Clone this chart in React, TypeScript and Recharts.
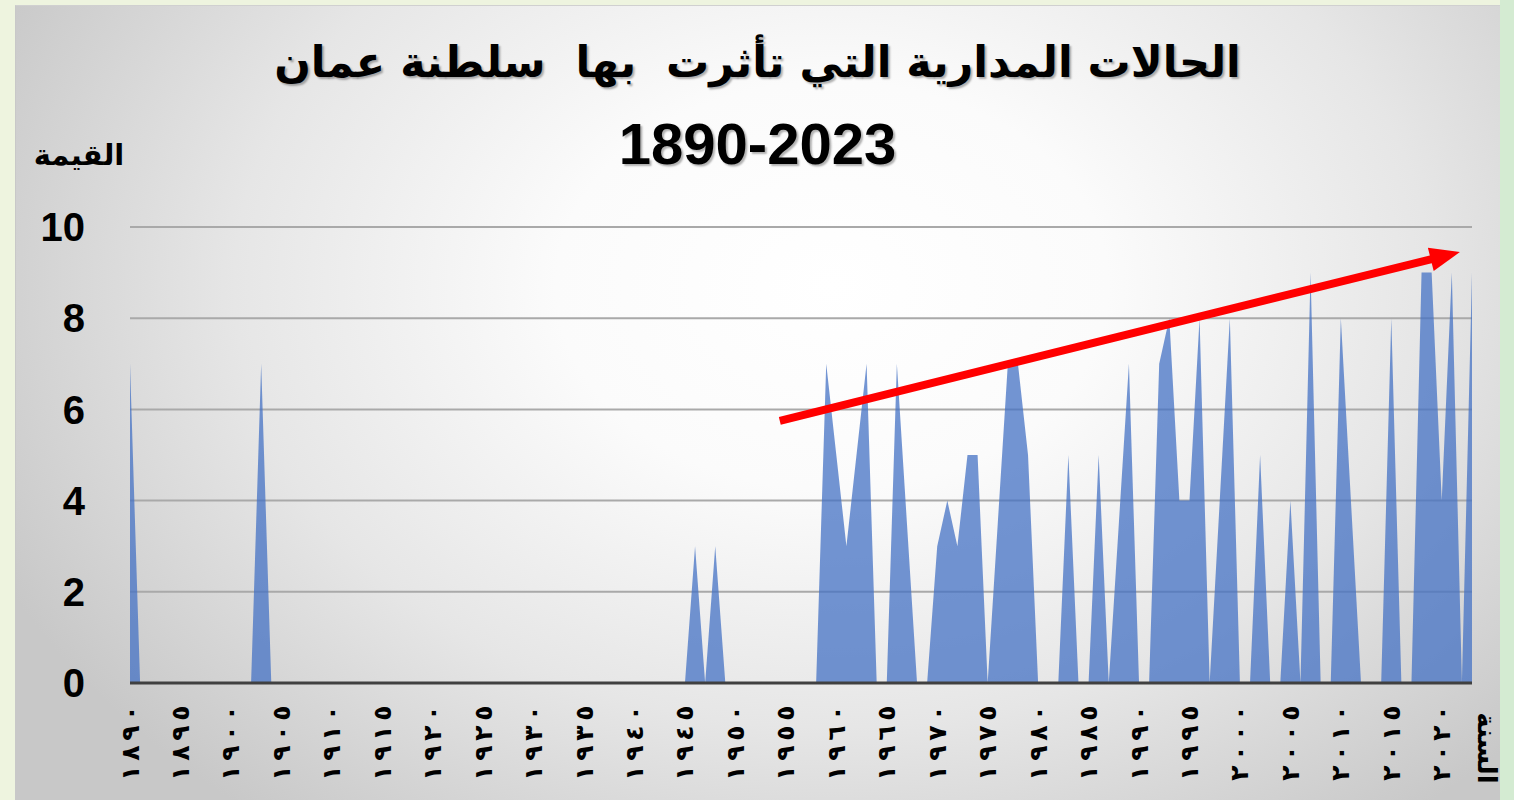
import React from 'react';
import { AreaChart, Area, XAxis, YAxis, CartesianGrid, ReferenceLine } from 'recharts';

const startYear = 1890;

// Values per year, 1890 .. 2023
const values: number[] = [
  // 1890-1899
  7, 0, 0, 0, 0, 0, 0, 0, 0, 0,
  // 1900-1909
  0, 0, 0, 7, 0, 0, 0, 0, 0, 0,
  // 1910-1919
  0, 0, 0, 0, 0, 0, 0, 0, 0, 0,
  // 1920-1929
  0, 0, 0, 0, 0, 0, 0, 0, 0, 0,
  // 1930-1939
  0, 0, 0, 0, 0, 0, 0, 0, 0, 0,
  // 1940-1949
  0, 0, 0, 0, 0, 0, 3, 0, 3, 0,
  // 1950-1959
  0, 0, 0, 0, 0, 0, 0, 0, 0, 7,
  // 1960-1969
  5, 3, 5, 7, 0, 0, 7, 3.5, 0, 0,
  // 1970-1979
  3, 4, 3, 5, 5, 0, 3.5, 7, 7, 5,
  // 1980-1989
  0, 0, 0, 5, 0, 0, 5, 0, 3.5, 7,
  // 1990-1999
  0, 0, 7, 8, 4, 4, 8, 0, 4, 8,
  // 2000-2009
  0, 0, 5, 0, 0, 4, 0, 9, 0, 0,
  // 2010-2019
  8, 4, 0, 0, 0, 8, 0, 0, 9, 9,
  // 2020-2023
  4, 9, 0, 9,
];

const tickYears = [
  1890, 1895, 1900, 1905, 1910, 1915, 1920, 1925, 1930, 1935, 1940, 1945, 1950,
  1955, 1960, 1965, 1970, 1975, 1980, 1985, 1990, 1995, 2000, 2005, 2010, 2015, 2020,
];
const yTicks = [0, 2, 4, 6, 8, 10];

const titleLine1 = 'الحالات المدارية التي تأثرت  بها  سلطنة عمان';
const titleLine2 = '1890-2023';
const yLabel = 'القيمة';
const xLabel = 'السنة';

// Trend arrow (annotation) in data coordinates
const trendStart = { year: 1954.4, value: 5.75 };
const trendEnd = { year: 2021.8, value: 9.45 };

const data = values.map((v, i) => ({ year: startYear + i, value: v }));

const toArabicDigits = (n: number | string) =>
  String(n).replace(/[0-9]/g, (d) => String.fromCharCode(0x0660 + Number(d)));

const XTick = (props: any) => {
  const { x, y, payload } = props;
  const chars = toArabicDigits(payload.value).split('');
  const n = chars.length;
  const step = 20;
  // rotated frame: larger x = higher on screen; last char on top
  return (
    <g transform={`rotate(-90 ${x} ${y})`}>
      {chars.map((c, i) => (
        <text
          key={i}
          x={x - 8 - (n - 1 - i) * step}
          y={y}
          textAnchor="middle"
          dominantBaseline="central"
          fontFamily="'DejaVu Sans', sans-serif"
          fontWeight="bold"
          fontSize={25}
          fill="#000"
        >
          {c}
        </text>
      ))}
    </g>
  );
};

const ArrowShape = (props: any) => {
  const { x1, y1, x2, y2 } = props;
  if ([x1, y1, x2, y2].some((v) => v === undefined || isNaN(v))) return null;
  const dx = x2 - x1;
  const dy = y2 - y1;
  const len = Math.sqrt(dx * dx + dy * dy);
  const ux = dx / len;
  const uy = dy / len;
  const headLen = 30;
  const headHalf = 12;
  const bx = x2 - ux * headLen;
  const by = y2 - uy * headLen;
  const px = -uy;
  const py = ux;
  return (
    <g>
      <line x1={x1} y1={y1} x2={bx + ux * 2} y2={by + uy * 2} stroke="#ff0000" strokeWidth={8} />
      <polygon
        points={`${x2},${y2} ${bx + px * headHalf},${by + py * headHalf} ${bx - px * headHalf},${by - py * headHalf}`}
        fill="#ff0000"
      />
    </g>
  );
};

export default function App() {
  return (
    <div
      style={{
        position: 'absolute',
        left: 0,
        top: 0,
        width: 1514,
        height: 800,
        overflow: 'hidden',
        background: '#eef4df',
      }}
    >
      <div style={{ position: 'absolute', left: 1500, top: 0, width: 14, height: 800, background: '#d4ebd2' }} />
      <div
        style={{
          position: 'absolute',
          left: 15,
          top: 5,
          width: 1485,
          height: 800,
          boxSizing: 'border-box',
          borderTop: '1px solid #d0d0d0',
          borderLeft: '1px solid #c8c8c8',
          background:
            'radial-gradient(ellipse 62% 85% at 55% 35%, #ffffff 0%, #fbfbfb 30%, #e6e6e6 65%, #c8c8c8 100%)',
        }}
      />
      <div style={{ position: 'absolute', left: 0, top: 0 }}>
        <AreaChart
          width={1514}
          height={800}
          data={data}
          margin={{ top: 227, right: 42, bottom: 17, left: 30 }}
        >
          <CartesianGrid vertical={false} stroke="#a9a9a9" strokeWidth={2} />
          <XAxis
            dataKey="year"
            type="number"
            domain={[1890, 2023]}
            ticks={tickYears}
            interval={0}
            tick={<XTick />}
            tickLine={false}
            tickSize={0}
            tickMargin={22}
            axisLine={{ stroke: '#404040', strokeWidth: 3 }}
            height={100}
            allowDataOverflow
          />
          <YAxis
            domain={[0, 10]}
            ticks={yTicks}
            width={100}
            axisLine={false}
            tickLine={false}
            tickSize={0}
            tickMargin={45}
            tick={{ fill: '#000', fontSize: 40, fontWeight: 'bold', fontFamily: "'Liberation Sans', Arial, sans-serif" }}
          />
          <Area
            type="linear"
            dataKey="value"
            fill="#4472C4"
            fillOpacity={0.75}
            stroke="none"
            dot={false}
            activeDot={false}
            isAnimationActive={false}
          />
          <ReferenceLine
            segment={[
              { x: trendStart.year, y: trendStart.value },
              { x: trendEnd.year, y: trendEnd.value },
            ]}
            shape={<ArrowShape />}
            ifOverflow="visible"
          />
        </AreaChart>
      </div>
      <div
        style={{
          position: 'absolute',
          left: 15,
          width: 1485,
          top: 30,
          height: 64,
          lineHeight: '64px',
          textAlign: 'center',
          direction: 'rtl',
          whiteSpace: 'pre',
          fontFamily: "'DejaVu Sans', sans-serif",
          fontWeight: 'bold',
          fontSize: 43,
          color: '#000',
          textShadow: '2px 2px 2px rgba(0,0,0,0.3)',
        }}
      >
        {titleLine1}
      </div>
      <div
        style={{
          position: 'absolute',
          left: 15,
          width: 1485,
          top: 112,
          height: 64,
          lineHeight: '64px',
          textAlign: 'center',
          fontFamily: "'Liberation Sans', Arial, sans-serif",
          fontWeight: 'bold',
          fontSize: 58,
          color: '#000',
          textShadow: '2px 2px 2px rgba(0,0,0,0.3)',
        }}
      >
        {titleLine2}
      </div>
      <div
        style={{
          position: 'absolute',
          left: 20,
          width: 118,
          top: 135,
          height: 40,
          lineHeight: '40px',
          textAlign: 'center',
          direction: 'rtl',
          fontFamily: "'DejaVu Sans', sans-serif",
          fontWeight: 'bold',
          fontSize: 29,
          color: '#000',
        }}
      >
        {yLabel}
      </div>
      <div
        style={{
          position: 'absolute',
          left: 1487 - 45,
          top: 748 - 17,
          width: 90,
          height: 34,
          lineHeight: '34px',
          textAlign: 'center',
          direction: 'rtl',
          transform: 'rotate(90deg)',
          fontFamily: "'DejaVu Sans', sans-serif",
          fontWeight: 'bold',
          fontSize: 26,
          color: '#000',
        }}
      >
        {xLabel}
      </div>
    </div>
  );
}
